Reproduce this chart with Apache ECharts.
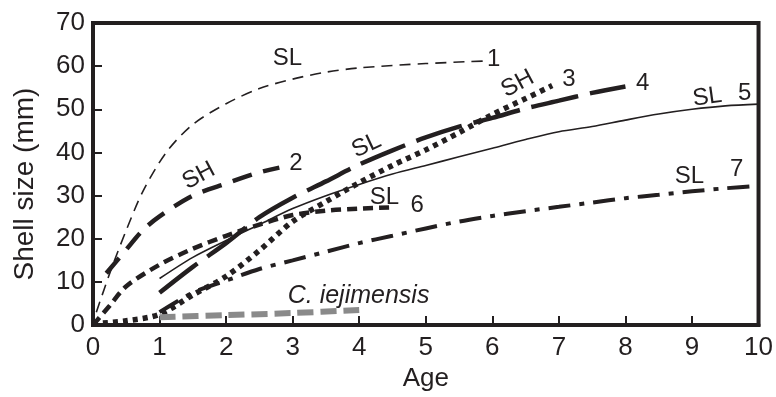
<!DOCTYPE html>
<html>
<head>
<meta charset="utf-8">
<script src="https://cdn.jsdelivr.net/npm/echarts@6/dist/echarts.min.js"></script>
<style>
  html, body { margin: 0; padding: 0; background: #fff; }
  #chart { width: 776px; height: 397px; }
</style>
</head>
<body>
<div id="chart"></div>
<script>
// growth curves, [age, shell size mm]
const curve1 = [[0.05, 3], [0.27, 12.8], [0.5, 22], [0.75, 31], [1.1, 40], [1.5, 46.5], [2, 51.3], [2.5, 54.8], [3, 57], [3.5, 58.6], [4, 59.6], [5, 60.6], [5.9, 61.2]];
const curve2 = [[0.2, 12], [0.5, 17.5], [0.75, 22], [1, 25.2], [1.5, 30], [2, 32.8], [2.5, 35.4], [2.8, 36.5]];
const curve3 = [[0, 0.3], [0.5, 1], [1, 2.5], [1.5, 7], [2, 11.3], [2.5, 17.3], [3, 24], [3.5, 28.6], [4, 33], [4.5, 37], [5, 40.6], [5.5, 44.6], [6, 48.8], [6.5, 52.5], [6.9, 55.5]];
const curve4 = [[1, 7.5], [1.5, 13.5], [2, 19], [2.5, 25], [3, 29.5], [3.5, 33.3], [4, 37.2], [4.5, 40.5], [5, 43.5], [5.5, 46], [6, 48], [6.5, 50.2], [7, 52], [7.5, 53.8], [8, 55.3]];
const curve5 = [[1, 10.8], [1.5, 15.7], [2, 19.6], [2.5, 23.3], [3, 27], [3.5, 30], [4, 32.6], [4.5, 35], [5, 37], [5.5, 39], [6, 41], [6.5, 43], [7, 44.8], [7.5, 46], [8, 47.5], [8.5, 48.9], [9, 50], [9.5, 50.8], [10, 51.2]];
const curve6 = [[0, 0], [0.25, 4.5], [0.5, 9], [1, 14], [1.5, 17.7], [2, 20.7], [2.5, 23.3], [3, 25.5], [3.5, 26.5], [4, 27], [4.5, 27.3]];
const curve7 = [[1, 3], [1.5, 7.5], [2, 10.3], [2.5, 13], [3, 15], [3.5, 17], [4, 19], [4.5, 20.7], [5, 22.4], [5.5, 24], [6, 25.3], [6.5, 26.4], [7, 27.4], [7.5, 28.4], [8, 29.4], [8.5, 30.2], [9, 31], [9.5, 31.7], [10, 32.3]];
const iejimensis = [[1, 1.8], [2, 2.3], [3, 2.8], [4, 3.5]];

// curve annotations: [age, size, text, rotation]
const notes = [
  [2.92, 61.8, 'SL', 0], [6.02, 61.5, '1', 0],
  [1.59, 34.6, 'SH', 28], [3.05, 37.4, '2', 0],
  [4.11, 41.6, 'SL', 25],
  [6.38, 55.9, 'SH', 28], [7.15, 57, '3', 0],
  [8.26, 56, '4', 0],
  [9.23, 52.8, 'SL', 8], [9.79, 53.6, '5', 0],
  [4.38, 29.6, 'SL', 0], [4.87, 27.8, '6', 0],
  [8.96, 34.5, 'SL', 0], [9.67, 36, '7', 0],
];
const speciesNote = [3.99, 6.7, 'C. iejimensis'];

const ink = '#231f20';
const font = '"Liberation Sans", Arial, sans-serif';

const chart = echarts.init(document.getElementById('chart'));

function curve(data, width, dash, color) {
  return {
    type: 'line',
    data: data,
    smooth: 0.3,
    symbol: 'none',
    silent: true,
    lineStyle: { color: color || ink, width: width, type: dash, cap: 'butt' },
  };
}

chart.setOption({
  animation: false,
  grid: {
    left: 93, right: 9, top: 23, bottom: 56,
    show: true, borderColor: ink, borderWidth: 4,
  },
  xAxis: {
    type: 'value', min: 0, max: 10, interval: 1,
    name: 'Age', nameLocation: 'middle', nameGap: 37,
    nameTextStyle: { color: ink, fontSize: 26, fontFamily: font },
    axisLine: { lineStyle: { color: ink, width: 4 } },
    axisTick: { inside: true, length: 9, lineStyle: { color: ink, width: 2 } },
    axisLabel: { color: ink, fontSize: 26, fontFamily: font, margin: 10 },
    splitLine: { show: false },
  },
  yAxis: {
    type: 'value', min: 0, max: 70, interval: 10,
    name: 'Shell size (mm)', nameLocation: 'middle', nameGap: 54,
    nameTextStyle: { color: ink, fontSize: 28, fontFamily: font, padding: [0, 20, 0, 0] },
    axisLine: { lineStyle: { color: ink, width: 4 } },
    axisTick: { inside: true, length: 9, lineStyle: { color: ink, width: 2 } },
    axisLabel: { color: ink, fontSize: 26, fontFamily: font, margin: 8 },
    splitLine: { show: false },
  },
  series: [
    curve(curve1, 1.6, [11, 7]),
    curve(curve2, 4.5, [20, 12]),
    curve(curve4, 4.5, [48, 12]),
    curve(curve5, 1.6, 'solid'),
    curve(curve6, 4.5, [10, 6]),
    curve(curve7, 4, [22, 9, 5, 9]),
    curve(curve3, 5.5, [5, 5]),
    curve(iejimensis, 6, [16, 7], '#8a8a8a'),
    {
      type: 'scatter',
      symbolSize: 0,
      silent: true,
      itemStyle: { opacity: 1 },
      data: notes.map((n) => ({
        value: [n[0], n[1]],
        label: { formatter: n[2], rotate: n[3] },
      })),
      label: {
        show: true, position: 'inside', color: ink,
        fontSize: 24, fontFamily: font,
      },
    },
    {
      type: 'scatter',
      symbolSize: 0,
      silent: true,
      itemStyle: { opacity: 1 },
      data: [{ value: [speciesNote[0], speciesNote[1]], label: { formatter: speciesNote[2] } }],
      label: {
        show: true, position: 'inside', color: ink,
        fontSize: 25, fontStyle: 'italic', fontFamily: font,
      },
    },
  ],
});
</script>
</body>
</html>
